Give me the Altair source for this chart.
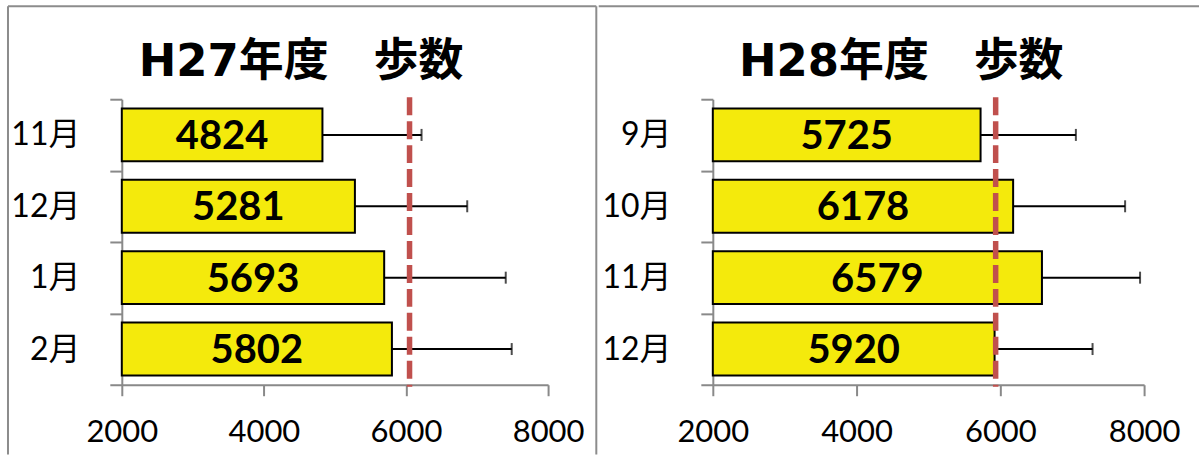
import altair as alt
import pandas as pd

# Monthly average daily steps with standard deviation, two fiscal years
h27_months = ["11月", "12月", "1月", "2月"]
h27_steps = [4824, 5281, 5693, 5802]
h27_sd = [1395, 1581, 1711, 1686]
h27_target = 6050

h28_months = ["9月", "10月", "11月", "12月"]
h28_steps = [5725, 6178, 6579, 5920]
h28_sd = [1326, 1558, 1365, 1363]
h28_target = 5935

x_ticks = [2000, 4000, 6000, 8000]
X_MIN, X_MAX = 2000, 8000

BAR_FILL = "#F4EA0C"
LINE_RED = "#C0504D"
FRAME_GRAY = "#8C8C8C"
AXIS_GRAY = "#898989"
LABEL_FONT = "Lato, Noto Sans CJK JP"
TITLE_FONT = "DejaVu Sans, Noto Sans CJK JP"
PLOT_H = 286


def panel(title, months, steps, sd, target, width, title_x, frame):
    df = pd.DataFrame({"month": months, "steps": steps, "sd": sd})
    base = alt.Chart(df).transform_calculate(
        start=str(X_MIN),
        upper="datum.steps + datum.sd",
        mid=f"(datum.steps + {X_MIN}) / 2",
    )
    xscale = alt.Scale(domain=[X_MIN, X_MAX], nice=False, zero=False)
    y = alt.Y(
        "month:N",
        sort=months,
        title=None,
        scale=alt.Scale(paddingInner=0, paddingOuter=0),
        axis=alt.Axis(
            tickBand="extent", tickSize=12, tickWidth=2, tickColor=AXIS_GRAY,
            domainColor=AXIS_GRAY, domainWidth=2,
            labelFont=LABEL_FONT, labelFontSize=32, labelColor="black",
            labelPadding=30,
        ),
    )
    x_axis = alt.Axis(
        values=x_ticks, format="d", grid=False,
        tickSize=11, tickWidth=2, tickColor=AXIS_GRAY,
        domainColor=AXIS_GRAY, domainWidth=2,
        labelFont=LABEL_FONT, labelFontSize=31, labelColor="black",
        labelPadding=22, labelFlush=False,
    )

    bars = base.mark_bar(fill=BAR_FILL, stroke="black", strokeWidth=2, height=53).encode(
        x=alt.X("steps:Q", scale=xscale, axis=x_axis, title=None),
        x2="start:Q",
        y=y,
    )
    labels = base.mark_text(
        font=LABEL_FONT, fontSize=40, fontWeight="bold", color="black",
        baseline="middle", dy=2,
    ).encode(x="mid:Q", y=y, text=alt.Text("steps:Q", format="d"))
    err = base.mark_rule(color="black", strokeWidth=2).encode(
        x="steps:Q", x2="upper:Q", y=y
    )
    caps = base.mark_tick(color="black", thickness=2, size=12).encode(
        x="upper:Q", y=y
    )
    ref = alt.Chart(pd.DataFrame({"target": [target]})).mark_rule(
        color=LINE_RED, strokeWidth=5.5, strokeDash=[18, 6]
    ).encode(x="target:Q", y=alt.value(-2), y2=alt.value(PLOT_H + 2))

    head = alt.Chart(pd.DataFrame({"title": [title]})).mark_text(
        font=TITLE_FONT, fontSize=45, fontWeight="bold", color="black",
        align="center", baseline="middle",
    ).encode(x=alt.value(title_x), y=alt.value(-37), text="title:N")

    # panel border (open at the bottom)
    one = pd.DataFrame({"k": [0]})
    left, top, right, bottom, draw_left, draw_right = frame
    edges = [
        alt.Chart(one).mark_rule(color=FRAME_GRAY, strokeWidth=2).encode(
            x=alt.value(left), x2=alt.value(right), y=alt.value(top)
        )
    ]
    if draw_left:
        edges.append(alt.Chart(one).mark_rule(color=FRAME_GRAY, strokeWidth=2).encode(
            x=alt.value(left), y=alt.value(top), y2=alt.value(bottom)))
    if draw_right:
        edges.append(alt.Chart(one).mark_rule(color=FRAME_GRAY, strokeWidth=2).encode(
            x=alt.value(right), y=alt.value(top), y2=alt.value(bottom)))

    return alt.layer(*edges, head, bars, labels, err, caps, ref).properties(
        width=width, height=PLOT_H
    )


left_panel = panel("H27年度　歩数", h27_months, h27_steps, h27_sd, h27_target,
                   427, 179.5, (-114, -93, 475.3, 356, True, True))
right_panel = panel("H28年度　歩数", h28_months, h28_steps, h28_sd, h28_target,
                    432, 188.7, (-114.3, -93, 487, 356, False, False))

chart = alt.hconcat(left_panel, right_panel, spacing=-1).properties(
    padding={"left": 7, "top": 5, "right": 0, "bottom": 0},
    background="white",
).configure_view(strokeWidth=0)

chart.save("out.html", embed_options={"renderer": "svg", "actions": False})
